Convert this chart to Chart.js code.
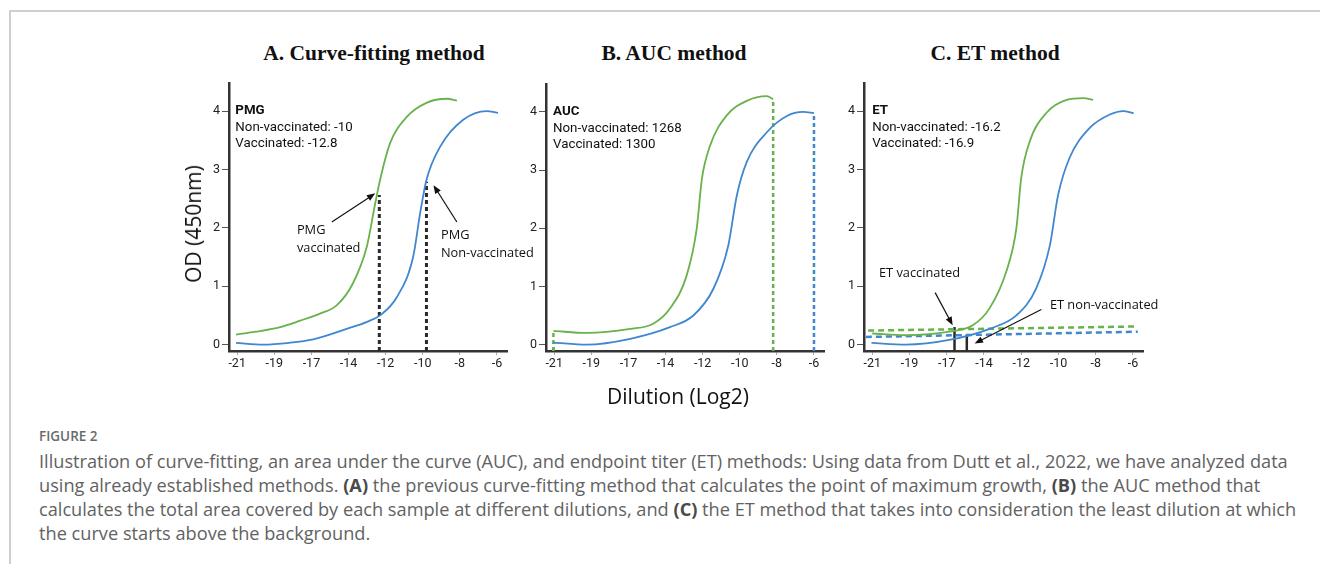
<!DOCTYPE html>
<html>
<head>
<meta charset="utf-8">
<script src="https://cdn.jsdelivr.net/npm/chart.js@4/dist/chart.umd.min.js"></script>
<style>
body{
    margin:0;
    background:#fff;
}
#figura{
    position:relative;
    width:1320px;
    height:564px;
    overflow:hidden;
    background:#fff;
}
#marco{
    position:absolute;
    left:9px;
    top:10px;
    width:1320px;
    height:600px;
    border-left:2px solid #cfcfcf;
    border-top:2px solid #cfcfcf;
}
canvas{
    position:absolute;
}
.titulo{
    position:absolute;
    top:53px;
    font-family:"Liberation Serif","Times New Roman",serif;
    font-weight:bold;
    font-size:21.5px;
    color:#111;
    transform:translate(-50%,-50%);
    white-space:nowrap;
}
#ejeY{
    position:absolute;
    left:193px;
    top:224px;
    font-family:"Open Sans",sans-serif;
    font-size:21px;
    color:#111;
    transform:translate(-50%,-50%) rotate(-90deg);
    white-space:nowrap;
}
#ejeX{
    position:absolute;
    left:678px;
    top:396px;
    font-family:"Open Sans",sans-serif;
    font-size:21px;
    color:#111;
    transform:translate(-50%,-50%);
    white-space:nowrap;
}
#figNum{
    position:absolute;
    left:39px;
    top:427px;
    font-family:"Open Sans",sans-serif;
    font-weight:600;
    font-size:13.5px;
    color:#6a6a6a;
}
#leyenda{
    position:absolute;
    left:39px;
    top:449px;
    font-family:"Open Sans",sans-serif;
    font-size:18.2px;
    line-height:24px;
    color:#626262;
    white-space:nowrap;
}
#leyenda b{
    color:#4a4a4a;
}
</style>
</head>
<body>
<div id="figura">
    <div id="marco"></div>

    <div class="titulo" style="left:374px">A. Curve-fitting method</div>
    <div class="titulo" style="left:674px">B. AUC method</div>
    <div class="titulo" style="left:995px">C. ET method</div>

    <canvas id="panelA" width="345" height="310" style="left:200px;top:70px"></canvas>
    <canvas id="panelB" width="330" height="310" style="left:517px;top:70px"></canvas>
    <canvas id="panelC" width="335" height="310" style="left:835px;top:70px"></canvas>

    <div id="ejeY">OD (450nm)</div>
    <div id="ejeX">Dilution (Log2)</div>

    <div id="figNum">FIGURE 2</div>
    <div id="leyenda">
        Illustration of curve-fitting, an area under the curve (AUC), and endpoint titer (ET) methods: Using data from Dutt et al., 2022, we have analyzed data<br>
        using already established methods. <b>(A)</b> the previous curve-fitting method that calculates the point of maximum growth, <b>(B)</b> the AUC method that<br>
        calculates the total area covered by each sample at different dilutions, and <b>(C)</b> the ET method that takes into consideration the least dilution at which<br>
        the curve starts above the background.
    </div>
</div>

<script>

// etiquetas del eje X (posiciones equidistantes 0..7)
const etiquetasX =
["-21","-19","-17","-14","-12","-10","-8","-6"];

const posicionesX =
[0,1,2,3,4,5,6,7];

const ticksY =
[0,1,2,3,4];

// curvas [posicion, OD]
const curvaA_vacunado =
[[-0.03,0.17],[0.5,0.22],[1.16,0.30],[1.7,0.41],[2.23,0.53],[2.68,0.67],[3.12,1.05],[3.49,1.67],[3.72,2.42],[3.85,2.82],[4.12,3.45],[4.57,3.90],[5.1,4.14],[5.65,4.21],[5.92,4.18]];

const curvaA_noVacunado =
[[-0.03,0.03],[0.7,0.0],[1.4,0.03],[2.05,0.09],[2.95,0.27],[3.5,0.39],[3.85,0.5],[4.3,0.81],[4.74,1.5],[4.93,2.25],[5.1,2.82],[5.47,3.39],[6.09,3.85],[6.72,4.0],[7.03,3.97]];

const curvaB_vacunado =
[[-0.02,0.235],[0.88,0.2],[2.05,0.27],[2.67,0.36],[3.12,0.62],[3.57,1.19],[3.84,1.99],[3.98,2.85],[4.2,3.42],[4.65,3.94],[5.19,4.19],[5.73,4.27],[5.9,4.22]];

const curvaB_noVacunado =
[[-0.02,0.035],[0.88,0.0],[2.05,0.1],[3.12,0.3],[3.75,0.5],[4.29,0.96],[4.69,1.7],[4.92,2.56],[5.19,3.14],[5.73,3.65],[6.27,3.93],[6.71,4.0],[7.0,3.98]];

const curvaC_vacunado =
[[0,0.19],[0.9,0.16],[2.07,0.22],[2.7,0.33],[3.15,0.62],[3.6,1.25],[3.87,1.99],[4.0,2.85],[4.23,3.48],[4.68,3.97],[5.22,4.19],[5.67,4.22],[5.93,4.19]];

const curvaC_noVacunado =
[[-0.02,0.03],[0.9,0.0],[2.07,0.08],[3.15,0.27],[3.87,0.5],[4.4,0.96],[4.77,1.7],[4.99,2.56],[5.3,3.2],[5.84,3.71],[6.38,3.94],[6.74,4.0],[7.02,3.96]];

// fondo (background) en panel C
const fondoC_vacunado =
[[-0.11,0.24],[7.13,0.31]];

const fondoC_noVacunado =
[[-0.17,0.13],[7.13,0.22]];

// lineas verticales [posicion, OD superior]
const lineasPMG =
[[3.83,2.56],[5.1,2.79]];

const lineasAUC_vacunado =
[[-0.02,0.235],[5.9,4.22]];

const lineasAUC_noVacunado =
[[-0.02,0.035],[7.0,3.98]];

const lineasET =
[[2.21,0.30],[2.54,0.17]];

const textosA =
["PMG","Non-vaccinated: -10","Vaccinated: -12.8"];

const textosB =
["AUC","Non-vaccinated: 1268","Vaccinated: 1300"];

const textosC =
["ET","Non-vaccinated: -16.2","Vaccinated: -16.9"];

const X_MIN = -0.22;
const X_MAX = 7.27;
const Y_MIN = -0.11;
const Y_MAX = 4.48;

const VERDE = "#68b24b";
const AZUL = "#3f87cf";
const NEGRO = "#2a2a2a";

function puntos(pares){
    return pares.map(p => ({x:p[0], y:p[1]}));
}

function curva(pares, color){
    return {
        data:puntos(pares),
        borderColor:color,
        borderWidth:1.8,
        pointRadius:0,
        cubicInterpolationMode:"monotone",
        fill:false
    };
}

function discontinua(pares, color, ancho, patron){
    return {
        data:puntos(pares),
        borderColor:color,
        borderWidth:ancho,
        borderDash:patron,
        pointRadius:0,
        tension:0,
        fill:false
    };
}

function verticales(lineas, color, ancho, patron){
    return lineas.map(l =>
        discontinua([[l[0],Y_MIN],[l[0],l[1]]], color, ancho, patron)
    );
}

function flecha(ctx, x1, y1, x2, y2){
    const ang = Math.atan2(y2 - y1, x2 - x1);
    const largo = 9;
    ctx.strokeStyle = "#111";
    ctx.fillStyle = "#111";
    ctx.lineWidth = 1.2;
    ctx.beginPath();
    ctx.moveTo(x1, y1);
    ctx.lineTo(x2 - Math.cos(ang) * 6, y2 - Math.sin(ang) * 6);
    ctx.stroke();
    ctx.beginPath();
    ctx.moveTo(x2, y2);
    ctx.lineTo(x2 - largo * Math.cos(ang - 0.38), y2 - largo * Math.sin(ang - 0.38));
    ctx.lineTo(x2 - largo * Math.cos(ang + 0.38), y2 - largo * Math.sin(ang + 0.38));
    ctx.closePath();
    ctx.fill();
}

// textos y flechas dibujados con las escalas del grafico
function anotaciones(cfg){
    return {
        id:"anotaciones",
        afterDatasetsDraw(chart){
            const ctx = chart.ctx;
            const sx = chart.scales.x;
            const sy = chart.scales.y;
            ctx.save();
            ctx.textBaseline = "middle";
            ctx.textAlign = "left";

            const x0 = sx.getPixelForValue(cfg.info[0]);
            const y0 = sy.getPixelForValue(cfg.info[1]);
            cfg.textos.forEach((t, i) => {
                ctx.font = (i === 0 ? "bold " : "") + "13.3px Roboto";
                ctx.fillStyle = "#111";
                ctx.fillText(t, x0, y0 + i * 16.3);
            });

            (cfg.etiquetas || []).forEach(e => {
                ctx.font = "12.8px 'Open Sans'";
                ctx.fillStyle = "#111";
                ctx.textAlign = e.alinear || "left";
                const ex = sx.getPixelForValue(e.x);
                const ey = sy.getPixelForValue(e.y);
                e.lineas.forEach((t, i) => {
                    ctx.fillText(t, ex, ey + i * 18);
                });
            });

            (cfg.flechas || []).forEach(f => {
                flecha(
                    ctx,
                    sx.getPixelForValue(f[0]),
                    sy.getPixelForValue(f[1]),
                    sx.getPixelForValue(f[2]),
                    sy.getPixelForValue(f[3])
                );
            });

            ctx.restore();
        }
    };
}

function crearPanel(id, datasets, anchoY, derecha, arriba, cfg){
    const fuente = {family:"Roboto", size:12.5};
    return new Chart(
        document.getElementById(id),
        {
            type:"line",
            data:{datasets:datasets},
            options:{
                responsive:false,
                animation:false,
                layout:{
                    padding:{left:0, right:derecha, top:arriba, bottom:0}
                },
                plugins:{
                    legend:{display:false},
                    tooltip:{enabled:false}
                },
                scales:{
                    x:{
                        type:"linear",
                        min:X_MIN,
                        max:X_MAX,
                        afterBuildTicks:s => {
                            s.ticks = posicionesX.map(v => ({value:v}));
                        },
                        afterFit:s => {
                            s.height = 29;
                        },
                        ticks:{
                            callback:(v, i) => etiquetasX[i],
                            font:fuente,
                            color:"#222",
                            padding:1,
                            maxRotation:0,
                            autoSkip:false
                        },
                        grid:{
                            drawOnChartArea:false,
                            tickLength:4,
                            color:"#aaa"
                        },
                        border:{color:"#333", width:2.5}
                    },
                    y:{
                        min:Y_MIN,
                        max:Y_MAX,
                        afterBuildTicks:s => {
                            s.ticks = ticksY.map(v => ({value:v}));
                        },
                        afterFit:s => {
                            s.width = anchoY;
                        },
                        ticks:{
                            font:fuente,
                            color:"#222",
                            padding:2
                        },
                        grid:{
                            drawOnChartArea:false,
                            tickLength:7,
                            color:"#555"
                        },
                        border:{color:"#333", width:2.5}
                    }
                }
            },
            plugins:[anotaciones(cfg)]
        }
    );
}

window.onload = () => {

    crearPanel(
        "panelA",
        [
            curva(curvaA_vacunado, VERDE),
            curva(curvaA_noVacunado, AZUL),
            ...verticales(lineasPMG, NEGRO, 3, [4,3])
        ],
        29, 38, 13,
        {
            info:[-0.05,4.0],
            textos:textosA,
            etiquetas:[
                {x:1.61, y:1.96, lineas:["PMG","vaccinated"]},
                {x:5.49, y:1.87, lineas:["PMG","Non-vaccinated"]}
            ],
            flechas:[
                [2.55,2.10,3.72,2.59],
                [5.92,2.10,5.29,2.73]
            ]
        }
    );

    crearPanel(
        "panelB",
        [
            curva(curvaB_vacunado, VERDE),
            curva(curvaB_noVacunado, AZUL),
            ...verticales(lineasAUC_vacunado, VERDE, 2.5, [4,3]),
            ...verticales(lineasAUC_noVacunado, AZUL, 2.5, [4,3])
        ],
        29, 23, 14,
        {
            info:[-0.03,4.0],
            textos:textosB
        }
    );

    crearPanel(
        "panelC",
        [
            curva(curvaC_vacunado, VERDE),
            curva(curvaC_noVacunado, AZUL),
            discontinua(fondoC_vacunado, VERDE, 2.5, [6,4]),
            discontinua(fondoC_noVacunado, AZUL, 2.5, [6,4]),
            ...verticales(lineasET, NEGRO, 2.5, [])
        ],
        29, 27, 13,
        {
            info:[0.0,4.0],
            textos:textosC,
            etiquetas:[
                {x:1.27, y:1.22, lineas:["ET vaccinated"], alinear:"center"},
                {x:4.77, y:0.67, lineas:["ET non-vaccinated"]}
            ],
            flechas:[
                [1.69,0.89,2.16,0.33],
                [4.54,0.60,2.75,0.02]
            ]
        }
    );

};
</script>
</body>
</html>
